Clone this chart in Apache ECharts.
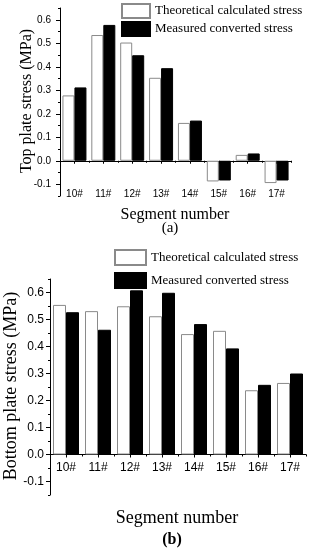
<!DOCTYPE html>
<html>
<head>
<meta charset="utf-8">
<script src="https://cdn.jsdelivr.net/npm/echarts@6/dist/echarts.min.js"></script>
<style>html,body{margin:0;padding:0;background:#fff;}#c{width:317px;height:550px;}</style>
</head>
<body>
<div id="c"></div>
<script>
var categories = ['10#', '11#', '12#', '13#', '14#', '15#', '16#', '17#'];
var seriesNames = ['Theoretical calculated stress', 'Measured converted stress'];
var topTheoretical = [0.278, 0.535, 0.503, 0.353, 0.161, -0.088, 0.025, -0.095];
var topMeasured = [0.312, 0.578, 0.449, 0.394, 0.171, -0.084, 0.031, -0.084];
var bottomTheoretical = [0.554, 0.531, 0.549, 0.512, 0.446, 0.458, 0.238, 0.265];
var bottomMeasured = [0.527, 0.462, 0.608, 0.599, 0.483, 0.393, 0.258, 0.300];
var yTicks = [-0.1, 0.0, 0.1, 0.2, 0.3, 0.4, 0.5, 0.6];
var yMinorTicks = [-0.15, -0.05, 0.05, 0.15, 0.25, 0.35, 0.45, 0.55, 0.65];
var yMin = -0.15, yMax = 0.65;

var SERIF = '"Liberation Serif", "Times New Roman", serif';
var SANS = '"Liberation Sans", Arial, sans-serif';

function mainY(grid, fs, margin) {
  return {
    type: 'value', gridIndex: grid, position: 'left', min: yMin, max: yMax,
    splitLine: {show: false},
    axisLine: {show: true, lineStyle: {color: '#000', width: 1}},
    axisTick: {show: true, inside: false, length: 4, customValues: yTicks, lineStyle: {color: '#000'}},
    axisLabel: {customValues: yTicks, margin: margin, fontSize: fs, fontFamily: SANS, color: '#000',
      formatter: function (v) { return (Math.round(v * 10) / 10).toFixed(1); }}
  };
}
function minorY(grid) {
  return {
    type: 'value', gridIndex: grid, position: 'left', min: yMin, max: yMax,
    splitLine: {show: false}, axisLine: {show: false}, axisLabel: {show: false},
    axisTick: {show: true, length: 2, customValues: yMinorTicks, lineStyle: {color: '#000'}}
  };
}
function mainX(grid, fs, margin) {
  return {
    type: 'category', gridIndex: grid, position: 'bottom', data: categories,
    axisLine: {show: true, onZero: true, lineStyle: {color: '#000', width: 1}},
    axisTick: {show: true, alignWithLabel: true, length: 3, lineStyle: {color: '#000'}},
    axisLabel: {margin: margin, fontSize: fs, fontFamily: SANS, color: '#000', interval: 0},
    splitLine: {show: false}
  };
}
function minorX(grid) {
  return {
    type: 'category', gridIndex: grid, position: 'bottom', data: categories,
    axisLine: {show: false, onZero: true},
    axisTick: {show: true, alignWithLabel: false, interval: 0, length: 2, lineStyle: {color: '#000'}},
    axisLabel: {show: false}, splitLine: {show: false}
  };
}
function bars(xi, yi, theo, meas, w) {
  return [
    {name: seriesNames[0], type: 'bar', xAxisIndex: xi, yAxisIndex: yi, data: theo, barWidth: w, barGap: '0%',
      itemStyle: {color: '#fff', borderColor: '#8a8a8a', borderWidth: 1}},
    {name: seriesNames[1], type: 'bar', xAxisIndex: xi, yAxisIndex: yi, data: meas, barWidth: w, barGap: '0%',
      itemStyle: {color: '#000', borderColor: '#000', borderWidth: 1}}
  ];
}

var chart = echarts.init(document.getElementById('c'), null, {renderer: 'canvas'});
chart.setOption({
  animation: false,
  backgroundColor: '#fff',
  grid: [
    {left: 60, top: 8, width: 231, height: 188, containLabel: false},
    {left: 50, top: 279, width: 256, height: 216, containLabel: false}
  ],
  xAxis: [mainX(0, 10, -7), minorX(0), mainX(1, 12, -33), minorX(1)],
  yAxis: [mainY(0, 10, 9), minorY(0), mainY(1, 12, 6), minorY(1)],
  legend: [
    {data: seriesNames, orient: 'vertical', left: 121, top: 3, padding: 0, itemWidth: 28, itemHeight: 14, itemGap: 2,
      icon: 'rect', textStyle: {fontFamily: SERIF, fontSize: 13, color: '#000'}, selectedMode: false},
    {data: seriesNames, orient: 'vertical', left: 114, top: 249, padding: 0, itemWidth: 31, itemHeight: 15, itemGap: 6,
      icon: 'rect', textStyle: {fontFamily: SERIF, fontSize: 13, color: '#000'}, selectedMode: false}
  ],
  graphic: [
    {type: 'text', x: 27, y: 101, rotation: Math.PI / 2,
      style: {text: 'Top plate stress (MPa)', font: '16px ' + SERIF, fill: '#000', textAlign: 'center', textVerticalAlign: 'middle'}},
    {type: 'text', x: 175, y: 215,
      style: {text: 'Segment number', font: '16px ' + SERIF, fill: '#000', textAlign: 'center', textVerticalAlign: 'middle'}},
    {type: 'text', x: 170, y: 228,
      style: {text: '(a)', font: '15px ' + SERIF, fill: '#000', textAlign: 'center', textVerticalAlign: 'middle'}},
    {type: 'text', x: 11, y: 386, rotation: Math.PI / 2,
      style: {text: 'Bottom plate stress (MPa)', font: '18px ' + SERIF, fill: '#000', textAlign: 'center', textVerticalAlign: 'middle'}},
    {type: 'text', x: 177, y: 518,
      style: {text: 'Segment number', font: '18px ' + SERIF, fill: '#000', textAlign: 'center', textVerticalAlign: 'middle'}},
    {type: 'text', x: 172, y: 540,
      style: {text: '(b)', font: 'bold 16px ' + SERIF, fill: '#000', textAlign: 'center', textVerticalAlign: 'middle'}}
  ],
  series: [].concat(bars(0, 0, topTheoretical, topMeasured, 12), bars(2, 2, bottomTheoretical, bottomMeasured, 13))
});
</script>
</body>
</html>
